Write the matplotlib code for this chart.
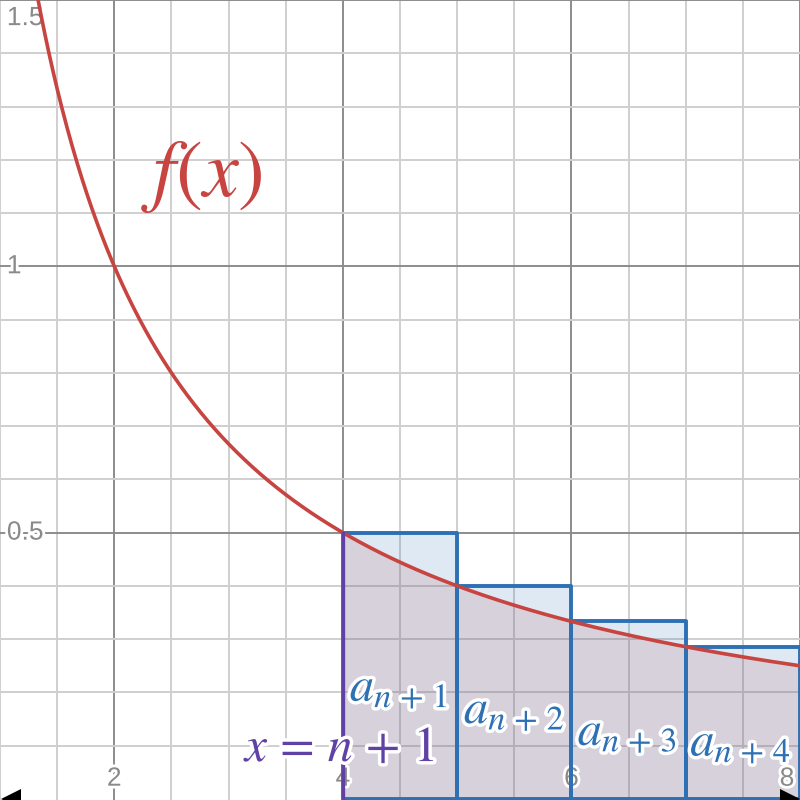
import numpy as np
import matplotlib.pyplot as plt
import matplotlib.patheffects as pe
from matplotlib.patches import Rectangle

plt.rcParams["mathtext.fontset"] = "stix"

# view window
x_min, x_max = 1.0, 8.0
y_min, y_max = -0.002, 1.5

# grid spacing
x_major = [2, 4, 6, 8]
y_major = [0.5, 1.0, 1.5]

# rectangles a_{n+k}: left edges and heights f(left)
rect_left = [4, 5, 6, 7]
rect_height = [0.5, 0.4, 0.3333, 0.2857]
rect_labels = [r"$a_{n\,+\,1}$", r"$a_{n\,+\,2}$", r"$a_{n\,+\,3}$", r"$a_{n\,+\,4}$"]
label_x = [4.49, 5.50, 6.49, 7.48]
label_y = [0.21, 0.168, 0.127, 0.107]

# tick labels
x_tick_vals = [2, 4, 6, 8]
x_tick_text = ["2", "4", "6", "8"]
y_tick_vals = [1.5, 1.0, 0.5]
y_tick_text = ["1.5", "1", "0.5"]

RED = "#c74440"
BLUE = "#2d70b3"
PURPLE = "#6042a6"


def f(x):
    return 2.0 / x


fig = plt.figure(figsize=(8, 8), dpi=100)
ax = fig.add_axes([0, 0, 1, 1])
ax.set_xlim(x_min, x_max)
ax.set_ylim(y_min, y_max)
for s in ax.spines.values():
    s.set_visible(False)

# grid
ax.set_xticks(x_major)
ax.set_xticks(np.arange(1.0, 8.01, 0.5), minor=True)
ax.set_yticks(y_major)
ax.set_yticks(np.arange(0.1, 1.51, 0.1), minor=True)
ax.tick_params(which="both", length=0, labelbottom=False, labelleft=False)
ax.grid(which="major", color="#8c8c8c", lw=1.4, zorder=0)
ax.grid(which="minor", color="#cfcfcf", lw=1.4, zorder=0)
ax.set_axisbelow(True)

# rectangles
for left, h in zip(rect_left, rect_height):
    ax.add_patch(Rectangle((left, 0), 1, h, facecolor=BLUE, alpha=0.15,
                           edgecolor="none", zorder=1))
    ax.add_patch(Rectangle((left, 0), 1, h, facecolor="none",
                           edgecolor=BLUE, lw=2.8, zorder=4, joinstyle="round"))

# area under the curve from x = 4
xs_area = np.linspace(4, x_max, 300)
ax.fill_between(xs_area, 0, f(xs_area), color="#b05c66", alpha=0.17,
                lw=0, zorder=2)

# curve
xs = np.linspace(x_min, x_max, 800)
ax.plot(xs, f(xs), color=RED, lw=2.6, zorder=5, solid_capstyle="round")

# vertical line x = n + 1
ax.plot([4, 4], [0, f(4)], color=PURPLE, lw=2.4, zorder=6)

# tick labels with white halo
halo = [pe.withStroke(linewidth=4, foreground="white")]
for v, t in zip(x_tick_vals, x_tick_text):
    ha = "right" if v == x_max else "center"
    xx = v - 0.05 if v == x_max else v
    ax.text(xx, 0.038, t, color="#8a8a8a", fontsize=19, family="Liberation Sans",
            ha=ha, va="center", path_effects=halo, zorder=3)
for v, t in zip(y_tick_vals, y_tick_text):
    yy = v - 0.034 if v == y_max else v
    ax.text(1.06, yy, t, color="#8a8a8a", fontsize=19, family="Liberation Sans",
            ha="left", va="center", path_effects=halo, zorder=3)

# axis arrows at y = 0
ax.plot([x_min + 0.1], [0], marker="<", ms=15, color="black", mew=0,
        zorder=7, clip_on=True)
ax.plot([x_max - 0.09], [0], marker=">", ms=15, color="black", mew=0,
        zorder=7, clip_on=True)

# labels
big_halo = [pe.withStroke(linewidth=5, foreground="white")]
ax.text(2.764, 1.17, r"$f(x)$", color=RED, fontsize=58, ha="center",
        va="center", zorder=8)
ax.text(3.98, 0.097, r"$x\,=\,n\,+\,1$", color=PURPLE, fontsize=36, ha="center",
        va="center", path_effects=big_halo, zorder=8)
for lx, ly, lab in zip(label_x, label_y, rect_labels):
    ax.text(lx, ly, lab, color=BLUE, fontsize=35, ha="center", va="center",
            path_effects=big_halo, zorder=8)

fig.savefig("out.png", dpi=100)
